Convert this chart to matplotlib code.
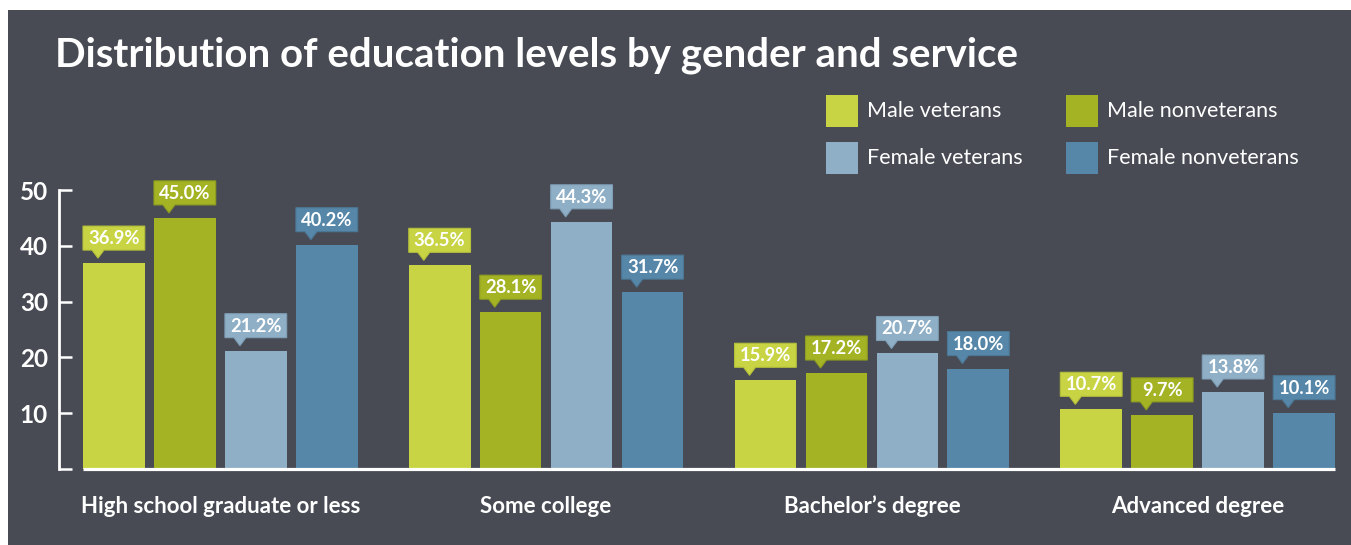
import matplotlib
matplotlib.use("Agg")
import matplotlib.pyplot as plt
from matplotlib.patches import Rectangle, Polygon
from matplotlib.transforms import Affine2D, ScaledTranslation, blended_transform_factory
import numpy as np

categories = ["High school graduate or less", "Some college", "Bachelor\u2019s degree", "Advanced degree"]
series_names = ["Male veterans", "Male nonveterans", "Female veterans", "Female nonveterans"]
male_veterans = [36.9, 36.5, 15.9, 10.7]
male_nonveterans = [45.0, 28.1, 17.2, 9.7]
female_veterans = [21.2, 44.3, 20.7, 13.8]
female_nonveterans = [40.2, 31.7, 18.0, 10.1]
series_values = [male_veterans, male_nonveterans, female_veterans, female_nonveterans]
colors = ["#c8d443", "#a3b324", "#8fafc6", "#5687a8"]
edge_colors = ["#b5c03a", "#8f9d1f", "#7f9fb6", "#4c7896"]
yticks = [0, 10, 20, 30, 40, 50]
ytick_labels = ["", "10", "20", "30", "40", "50"]

BG = "#484b54"
W, H = 1351, 545
DPI = 100
FONT = "Lato"

fig = plt.figure(figsize=(W / DPI, H / DPI), dpi=DPI)
fig.patch.set_facecolor("white")
fig.patches.append(Rectangle((8 / W, 0), 1 - 8 / W, (H - 10) / H, transform=fig.transFigure,
                             facecolor=BG, edgecolor="none", zorder=-10))

group_gap = 4.59
bar_w = 0.87
xmin, xmax = -2.273, 3 * group_gap + 1.5 + bar_w / 2 + 0.014
ax_left, ax_right = 59, 1336
y0_px, y50_px = 469, 190
ax = fig.add_axes([ax_left / W, (H - y0_px) / H, (ax_right - ax_left) / W, (y0_px - y50_px) / H])
ax.set_zorder(1)
ax.set_facecolor("none")
ax.set_xlim(xmin, xmax)
ax.set_ylim(0, 50)

for s in ["top", "right", "bottom"]:
    ax.spines[s].set_visible(False)
ax.spines["left"].set_color("white")
ax.spines["left"].set_linewidth(2.0)
ax.set_yticks(yticks)
ax.set_yticklabels(ytick_labels)
ax.tick_params(axis="y", direction="in", length=9.5, width=1.8, color="white",
               labelcolor="white", labelsize=17.5, pad=8)
for lbl in ax.get_yticklabels():
    lbl.set_fontfamily(FONT)
    lbl.set_fontweight("bold")
ax.set_xticks([])

px = Affine2D().scale(1 / DPI) + fig.dpi_scale_trans
wpx = bar_w * (ax_right - ax_left) / (xmax - xmin)

lefts_all = []
for k, (vals, c, ec) in enumerate(zip(series_values, colors, edge_colors)):
    xs = np.arange(len(categories)) * group_gap + (k - 1.5)
    ax.bar(xs, vals, width=bar_w, color=c, zorder=2)
    for x, v in zip(xs, vals):
        left = x - bar_w / 2
        lefts_all.append(left)
        tr = px + ScaledTranslation(left, v, ax.transData)
        verts = [(0, 13), (9, 13), (15, 5), (21, 13), (wpx, 13), (wpx, 37), (0, 37)]
        poly = Polygon(verts, closed=True, transform=tr, facecolor=c, edgecolor=ec,
                       linewidth=0.8, clip_on=False, zorder=3)
        ax.add_patch(poly)
        ax.text(wpx / 2, 24.5, f"{v:.1f}%", transform=tr, ha="center", va="center",
                color="white", fontsize=13.2, fontweight="bold", family=FONT,
                clip_on=False, zorder=4)

# baseline
first_left = min(lefts_all)
last_right = max(lefts_all) + bar_w
ax.plot([first_left, last_right], [0, 0], color="white", lw=2.3, solid_capstyle="butt",
        zorder=5, clip_on=False)

# category labels
tr_cat = blended_transform_factory(ax.transData, fig.transFigure)
for i, cat in enumerate(categories):
    ax.text(i * group_gap, (H - 513) / H, cat, transform=tr_cat, ha="center", va="baseline",
            color="white", fontsize=16, fontweight="bold", family=FONT)

# title
fig.text(55 / W, (H - 67) / H, "Distribution of education levels by gender and service",
         ha="left", va="baseline", color="white", fontsize=29, fontweight="bold", family=FONT)

# legend
leg_pos = [(826, 95), (1066, 95), (826, 142), (1066, 142)]
for (lx, ly), name, c in zip(leg_pos, series_names, colors):
    fig.patches.append(Rectangle((lx / W, (H - ly - 32) / H), 32 / W, 32 / H,
                                 transform=fig.transFigure, facecolor=c, edgecolor="none"))
    fig.text((lx + 41) / W, (H - ly - 16) / H, name, ha="left", va="center",
             color="white", fontsize=15.5, family=FONT)

fig.savefig("out.png", dpi=DPI, facecolor=fig.get_facecolor())
